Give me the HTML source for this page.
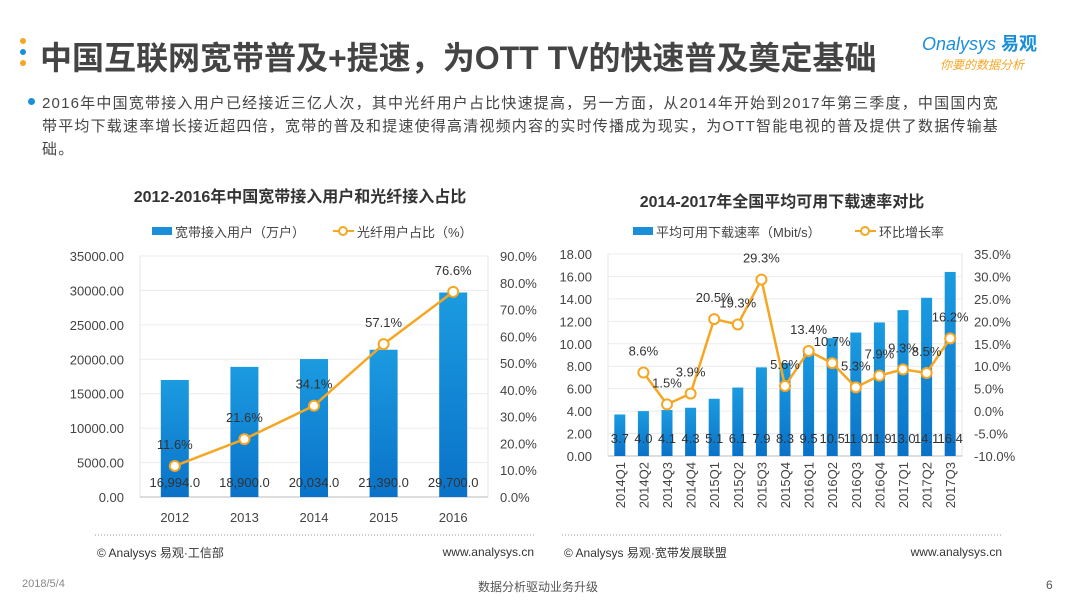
<!DOCTYPE html>
<html><head><meta charset="utf-8">
<style>
body{margin:0;width:1080px;height:608px;background:#fff;font-family:"Liberation Sans","Noto Sans CJK SC",sans-serif;overflow:hidden;position:relative}
.t{position:absolute;white-space:nowrap}
</style></head><body>
<div class="t" style="left:20px;top:38px;width:6px">
<div style="width:6px;height:6px;border-radius:3px;background:#f5a623;margin-bottom:5px"></div>
<div style="width:6px;height:6px;border-radius:3px;background:#1a8fd8;margin-bottom:5px"></div>
<div style="width:6px;height:6px;border-radius:3px;background:#f5a623"></div></div>
<div class="t" style="left:40px;top:33px;font-size:32px;font-weight:bold;color:#444">中国互联网宽带普及+提速，为OTT TV的快速普及奠定基础</div>
<div class="t" style="left:922px;top:30px;font-size:18px;color:#1a8fd8;font-style:italic">Onalysys <b style="font-style:normal">易观</b></div>
<div class="t" style="left:940px;top:56px;font-size:12px;color:#f5a623;font-style:italic">你要的数据分析</div>
<div class="t" style="left:28px;top:98px;width:7px;height:7px;border-radius:4px;background:#1a8fd8"></div>
<div class="t" style="left:42px;top:92px;font-size:15px;letter-spacing:1.2px;line-height:23px;color:#444">2016年中国宽带接入用户已经接近三亿人次，其中光纤用户占比快速提高，另一方面，从2014年开始到2017年第三季度，中国国内宽<br>带平均下载速率增长接近超四倍，宽带的普及和提速使得高清视频内容的实时传播成为现实，为OTT智能电视的普及提供了数据传输基<br>础。</div>
<svg id="svg" width="1080" height="608" style="position:absolute;left:0;top:0"></svg>
<div class="t" style="left:22px;top:578px;font-size:11px;color:#888">2018/5/4</div>
<div class="t" style="left:478px;top:578px;font-size:12px;color:#555">数据分析驱动业务升级</div>
<div class="t" style="left:1046px;top:578px;font-size:12px;color:#555">6</div>
<script>
const leftCats=["2012","2013","2014","2015","2016"];
const leftUsers=[16994,18900,20034,21390,29700];
const leftFiber=[11.6,21.6,34.1,57.1,76.6];
const leftYTicks=[0,5000,10000,15000,20000,25000,30000,35000];
const leftY2Ticks=[0,10,20,30,40,50,60,70,80,90];
const rightCats=["2014Q1","2014Q2","2014Q3","2014Q4","2015Q1","2015Q2","2015Q3","2015Q4","2016Q1","2016Q2","2016Q3","2016Q4","2017Q1","2017Q2","2017Q3"];
const rightSpeed=[3.7,4.0,4.1,4.3,5.1,6.1,7.9,8.3,9.5,10.5,11.0,11.9,13.0,14.1,16.4];
const rightGrowth=[null,8.6,1.5,3.9,20.5,19.3,29.3,5.6,13.4,10.7,5.3,7.9,9.3,8.5,16.2];
const rightYTicks=[0,2,4,6,8,10,12,14,16,18];
const rightY2Ticks=[-10,-5,0,5,10,15,20,25,30,35];
const svg=document.getElementById('svg');const NS="http://www.w3.org/2000/svg";
function mk(t,a,txt,name){const e=document.createElementNS(NS,t);for(const k in a)e.setAttribute(k,a[k]);if(txt!==undefined)e.textContent=txt;


svg.appendChild(e);return e;}
const defs=mk('defs',{},undefined,'defs');
defs.innerHTML='<linearGradient id="bg" x1="0" y1="0" x2="0" y2="1"><stop offset="0" stop-color="#1b9be0"/><stop offset="1" stop-color="#0a72c8"/></linearGradient>';
function chart(o){
 const {x0,x1,y0,y1,cats,bars,line,yt,y2t,ymax,y2min,y2max,bw,fmtY,fmtY2,fmtBar,fmtLine,barLabY,rot,fs}=o;
 const band=(x1-x0)/cats.length;
 const ys=v=>y1-(v/ymax)*(y1-y0);
 const y2s=v=>y1-(v-y2min)/(y2max-y2min)*(y1-y0);
 const xs=i=>x0+band*(i+0.5);
 mk('rect',{x:x0,y:y0,width:x1-x0,height:y1-y0,fill:'none',stroke:'#e4e4e4'},undefined,'plot-area');
 yt.forEach(v=>{mk('line',{x1:x0,x2:x1,y1:ys(v),y2:ys(v),stroke:'#ececec'},undefined,'gridline');
  mk('text',{x:x0-16,y:ys(v)+5,'text-anchor':'end','font-size':fs,fill:'#444'},fmtY(v),'y-tick-label');});
 y2t.forEach(v=>mk('text',{x:x1+12,y:y2s(v)+5,'font-size':fs,fill:'#444'},fmtY2(v),'y2-tick-label'));
 mk('line',{x1:x0,x2:x1,y1:y1,y2:y1,stroke:'#bbb'},undefined,'x-axis');
 cats.forEach((c,i)=>{
  mk('rect',{x:xs(i)-bw/2,y:ys(bars[i]),width:bw,height:y1-ys(bars[i]),fill:'url(#bg)'},undefined,'bar-'+c);
  if(rot){mk('text',{x:xs(i)+5,y:y1+6,transform:`rotate(-90 ${xs(i)+5} ${y1+6})`,'text-anchor':'end','font-size':fs,fill:'#444'},c,'x-tick-label');}
  else mk('text',{x:xs(i),y:y1+25,'text-anchor':'middle','font-size':fs,fill:'#444'},c,'x-tick-label');
  mk('text',{x:xs(i),y:y1-barLabY,'text-anchor':'middle','font-size':fs,fill:'#333'},fmtBar(bars[i]),'bar-value-label');
 });
 let d='';line.forEach((v,i)=>{if(v==null)return;d+=(d?'L':'M')+xs(i)+','+y2s(v);});
 mk('path',{d:d,fill:'none',stroke:'#f5a623','stroke-width':2.5},undefined,'growth-line');
 line.forEach((v,i)=>{if(v==null)return;
  mk('circle',{cx:xs(i),cy:y2s(v),r:5,fill:'#fff',stroke:'#f5a623','stroke-width':2},undefined,'line-point');
  mk('text',{x:xs(i),y:y2s(v)-17,'text-anchor':'middle','font-size':fs,fill:'#333'},fmtLine(v),'line-value-label');});
}
chart({x0:140,x1:488,y0:256,y1:497,cats:leftCats,bars:leftUsers,line:leftFiber,yt:leftYTicks,y2t:leftY2Ticks,ymax:35000,y2min:0,y2max:90,bw:28,
 fmtY:v=>v.toFixed(2),fmtY2:v=>v.toFixed(1)+'%',fmtBar:v=>v.toLocaleString('en-US',{minimumFractionDigits:1}),fmtLine:v=>v.toFixed(1)+'%',barLabY:10,rot:false,fs:13});
chart({x0:608,x1:962,y0:254,y1:456,cats:rightCats,bars:rightSpeed,line:rightGrowth,yt:rightYTicks,y2t:rightY2Ticks,ymax:18,y2min:-10,y2max:35,bw:11,
 fmtY:v=>v.toFixed(2),fmtY2:v=>v.toFixed(1)+'%',fmtBar:v=>v.toFixed(1),fmtLine:v=>v.toFixed(1)+'%',barLabY:13,rot:true,fs:13});
mk('text',{x:300,y:202,'text-anchor':'middle','font-size':16,'font-weight':'bold',fill:'#333'},'2012-2016年中国宽带接入用户和光纤接入占比','left-chart-title');
mk('text',{x:782,y:207,'text-anchor':'middle','font-size':16,'font-weight':'bold',fill:'#333'},'2014-2017年全国平均可用下载速率对比','right-chart-title');
mk('rect',{x:152,y:227,width:20,height:8,fill:'#1a8fd8'},undefined,'legend-bar-swatch');
mk('text',{x:175,y:237,'font-size':13,fill:'#444'},'宽带接入用户（万户）','legend-entry-users');
mk('line',{x1:333,x2:354,y1:231,y2:231,stroke:'#f5a623','stroke-width':2},undefined,'legend-line-swatch');
mk('circle',{cx:343,cy:231,r:4,fill:'#fff',stroke:'#f5a623','stroke-width':2},undefined,'legend-line-marker');
mk('text',{x:357,y:237,'font-size':13,fill:'#444'},'光纤用户占比（%）','legend-entry-fiber');
mk('rect',{x:633,y:227,width:20,height:8,fill:'#1a8fd8'},undefined,'legend-bar-swatch');
mk('text',{x:656,y:237,'font-size':13,fill:'#444'},'平均可用下载速率（Mbit/s）','legend-entry-speed');
mk('line',{x1:855,x2:876,y1:231,y2:231,stroke:'#f5a623','stroke-width':2},undefined,'legend-line-swatch');
mk('circle',{cx:865,cy:231,r:4,fill:'#fff',stroke:'#f5a623','stroke-width':2},undefined,'legend-line-marker');
mk('text',{x:879,y:237,'font-size':13,fill:'#444'},'环比增长率','legend-entry-growth');
mk('line',{x1:95,x2:535,y1:535,y2:535,stroke:'#999','stroke-dasharray':'1 2'},undefined,'left-source-divider');
mk('text',{x:97,y:557,'font-size':12,fill:'#333'},'© Analysys 易观·工信部','left-source');
mk('text',{x:534,y:556,'text-anchor':'end','font-size':12,fill:'#333'},'www.analysys.cn','left-url');
mk('line',{x1:562,x2:1002,y1:535,y2:535,stroke:'#999','stroke-dasharray':'1 2'},undefined,'right-source-divider');
mk('text',{x:564,y:557,'font-size':12,fill:'#333'},'© Analysys 易观·宽带发展联盟','right-source');
mk('text',{x:1002,y:556,'text-anchor':'end','font-size':12,fill:'#333'},'www.analysys.cn','right-url');
</script>
</body></html>
